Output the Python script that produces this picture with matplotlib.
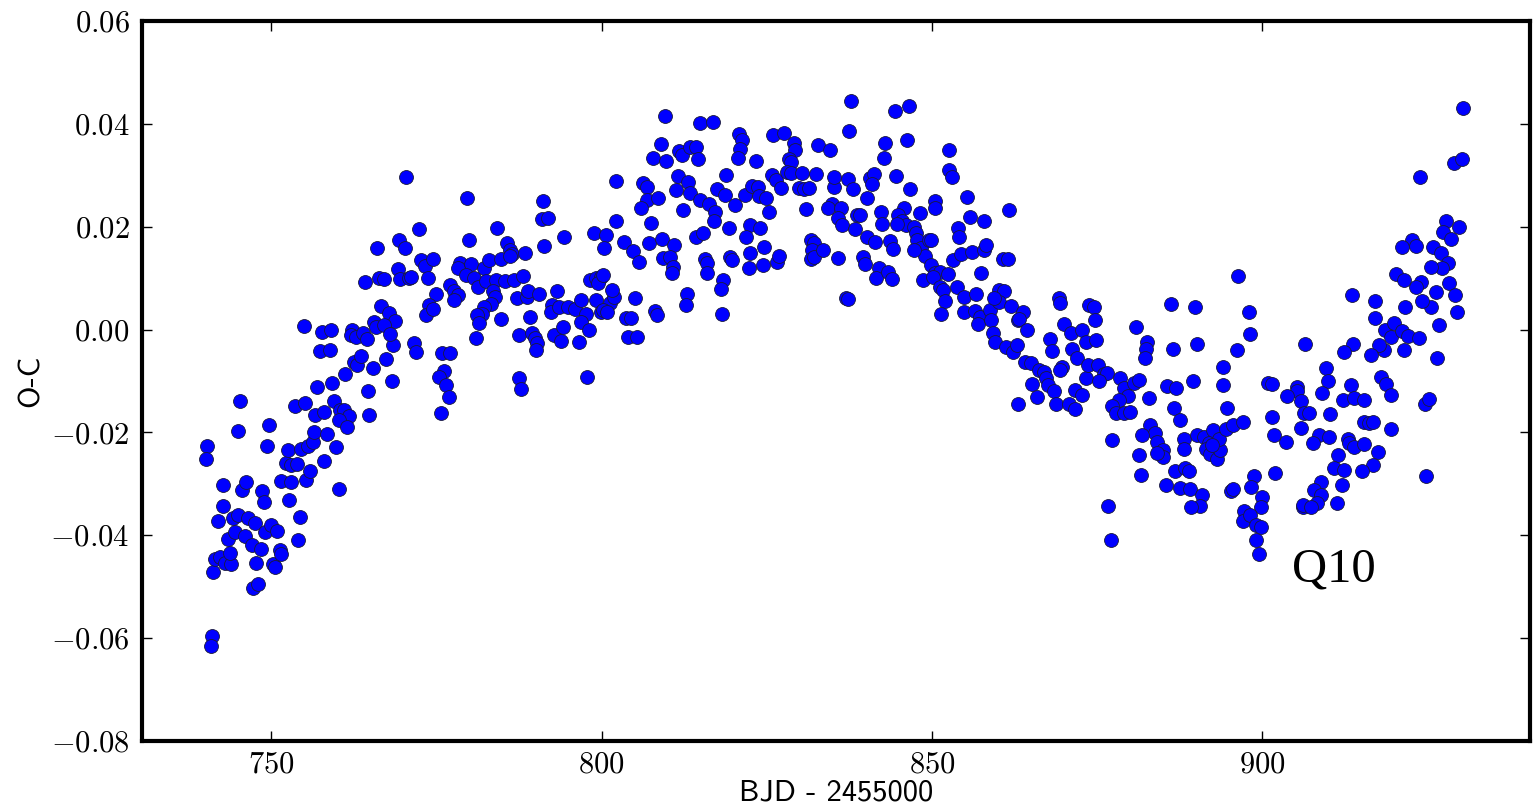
import numpy as np
import matplotlib
matplotlib.use("Agg")
import matplotlib.pyplot as plt

plt.rcParams["font.family"] = "cmr10"
plt.rcParams["mathtext.fontset"] = "cm"
plt.rcParams["axes.formatter.use_mathtext"] = True

# (BJD - 2455000, O-C in units of 1e-3), grouped by stretch
rise = [(741.0, -59.6), (740.8, -61.6), (740.3, -22.7), (740.1, -25.2), (741.2, -47.1), (741.4, -44.7),
        (742.2, -44.2), (743.0, -45.3), (743.9, -45.5), (743.7, -43.5), (741.9, -37.2), (742.7, -34.3),
        (742.6, -30.2), (743.5, -40.7), (744.5, -39.3), (744.2, -36.6), (744.9, -36.1), (746.0, -40.2),
        (746.5, -36.7), (747.5, -37.7), (747.1, -41.9), (748.4, -42.7), (747.7, -45.3), (747.2, -50.3),
        (748.0, -49.4), (745.5, -31.2), (746.2, -29.6), (748.6, -31.3), (748.9, -33.5), (745.2, -13.9),
        (744.9, -19.7), (749.7, -18.6), (749.4, -22.7), (749.1, -39.3), (750.0, -38.0), (750.8, -39.2),
        (750.3, -45.5), (750.5, -46.2), (751.3, -42.9), (751.4, -43.7), (752.7, -33.2), (754.3, -36.4),
        (754.0, -40.9), (751.5, -29.4), (753.0, -29.7), (752.2, -25.9), (753.0, -26.3), (753.8, -26.2),
        (752.5, -23.4), (755.3, -29.3), (755.9, -27.6), (754.5, -23.2), (755.5, -22.7), (756.3, -21.8),
        (756.5, -19.9), (758.4, -20.4), (759.7, -22.9), (758.0, -25.6), (760.2, -31.1), (753.5, -14.8),
        (755.1, -14.2), (756.6, -16.6), (757.9, -16.0), (759.4, -13.9), (760.4, -15.7), (761.0, -15.7),
        (761.7, -16.8), (760.3, -17.6), (761.5, -18.9), (764.8, -16.6), (764.6, -12.0), (756.9, -11.1),
        (759.2, -10.3), (761.2, -8.7), (762.5, -6.3), (763.0, -6.9), (763.6, -5.2), (765.3, -7.5),
        (767.3, -5.8), (768.3, -10.0), (757.4, -4.1), (758.8, -3.9), (768.4, -3.1),
        (770.3, 29.6), (769.3, 17.4), (770.2, 15.9), (766.0, 15.9), (769.1, 11.7), (769.5, 9.8),
        (770.8, 10.1), (766.3, 10.1), (767.0, 9.8), (764.2, 9.2), (766.6, 4.6), (767.8, 3.3),
        (768.7, 1.7), (765.5, 1.5), (765.9, 0.5), (767.1, 0.9), (768.0, -0.9), (754.9, 0.7),
        (757.6, -0.4), (759.0, -0.1), (762.2, 0.0), (762.0, -1.1), (762.8, -1.5), (763.8, -0.7),
        (764.5, -1.8)]

plateau = [(779.6, 25.5), (791.1, 25.0), (790.9, 21.5), (791.8, 21.7), (802.2, 28.9), (802.1, 21.2),
           (772.3, 19.5), (784.1, 19.8), (779.9, 17.4), (785.7, 16.9), (786.1, 15.5), (786.4, 14.7),
           (788.4, 14.8), (791.3, 16.2), (794.3, 17.9), (798.8, 18.8), (800.6, 18.3), (800.3, 15.9),
           (772.7, 13.5), (773.2, 12.3), (774.5, 13.7), (771.2, 10.3), (773.7, 10.0), (774.9, 7.0),
           (773.8, 4.8), (773.4, 2.8), (774.4, 3.9), (778.6, 12.9), (778.2, 11.9), (780.2, 12.7),
           (779.4, 10.6), (780.6, 10.0), (781.3, 8.3), (777.1, 8.7), (777.6, 7.4), (778.2, 6.8),
           (777.6, 5.7), (782.1, 12.0), (782.9, 13.6), (784.7, 13.7), (786.1, 14.3), (782.5, 9.4),
           (784.0, 9.6), (785.3, 9.4), (786.7, 9.6), (788.1, 10.5), (783.6, 7.4), (783.8, 6.4),
           (783.2, 5.0), (782.2, 4.4), (781.9, 3.0), (781.1, 2.8), (781.4, 1.3), (784.8, 2.0),
           (780.9, -1.7), (787.1, 6.1), (788.7, 6.4), (788.9, 7.4), (790.5, 6.9), (789.2, 2.4),
           (787.4, -1.1), (789.4, -0.6), (789.9, -1.7), (790.2, -2.7), (790.1, -4.0), (793.2, 7.5),
           (792.4, 4.8), (792.3, 3.5), (793.6, 4.4), (794.9, 4.4), (795.9, 3.9), (796.9, 5.7),
           (797.6, 3.1), (796.8, 1.5), (792.7, -1.1), (794.1, 0.5), (793.9, -2.2), (796.6, -2.4),
           (798.0, -0.1), (799.1, 5.7), (799.9, 3.5), (800.7, 3.8), (801.2, 5.1), (801.8, 6.3),
           (801.5, 7.7), (798.2, 9.6), (799.1, 10.1), (799.9, 10.3), (799.5, 9.1), (771.6, -2.7),
           (771.9, -4.3), (775.8, -4.6), (777.0, -4.6), (776.1, -8.0), (775.4, -9.2), (776.4, -10.8),
           (776.9, -13.1), (787.5, -9.5), (787.8, -11.6), (797.7, -9.3), (775.7, -16.3)]

crest = [(809.6, 41.5), (814.8, 40.1), (816.8, 40.3), (808.9, 36.1), (807.7, 33.3), (809.7, 32.8),
         (811.7, 34.7), (812.1, 33.9), (813.4, 35.5), (814.2, 35.4), (814.5, 33.1), (820.8, 38.0),
         (821.3, 36.8), (821.0, 35.2), (820.6, 33.3), (823.3, 32.8), (825.9, 37.8), (827.6, 38.3),
         (829.1, 36.2), (829.3, 35.0), (828.3, 33.1), (828.7, 32.6), (832.8, 35.9), (806.2, 28.4),
         (806.9, 27.8), (806.8, 25.2), (808.5, 25.6), (806.0, 23.6), (811.5, 29.8), (813.1, 28.7),
         (811.3, 27.1), (813.3, 26.5), (812.3, 23.2), (807.5, 20.8), (814.8, 25.2), (816.3, 24.4),
         (817.2, 22.9), (817.0, 21.1), (818.8, 30.0), (817.4, 27.3), (818.6, 26.1), (820.2, 24.2),
         (821.7, 26.2), (822.8, 27.9), (823.7, 27.8), (823.8, 26.0), (824.9, 25.5), (825.3, 22.9),
         (825.8, 30.0), (826.4, 29.1), (827.2, 27.6), (828.1, 30.7), (828.6, 30.5), (830.3, 30.4),
         (829.8, 27.6), (830.6, 27.3), (831.3, 27.6), (832.4, 30.2), (830.9, 23.4), (819.3, 19.8),
         (822.5, 20.3), (824.0, 19.8), (821.9, 18.0), (814.2, 18.0), (815.4, 18.8), (803.4, 17.1),
         (804.7, 15.3), (805.7, 13.1), (807.1, 16.8), (809.1, 17.7), (811.0, 16.4), (809.3, 14.0),
         (810.4, 14.2), (810.8, 12.2), (810.6, 11.0), (815.7, 13.8), (816.0, 12.9), (815.9, 11.0),
         (819.4, 14.2), (819.7, 13.5), (822.4, 14.8), (822.3, 11.9), (824.5, 16.1), (824.4, 12.5),
         (826.6, 13.2), (826.8, 14.3), (818.4, 9.6), (818.1, 7.8), (812.9, 7.0), (812.7, 4.8),
         (818.2, 3.1), (831.6, 17.5), (832.1, 16.8), (831.9, 15.5), (831.6, 13.8), (832.2, 14.2),
         (800.2, 10.6), (800.2, 3.8), (800.8, 3.5), (805.1, 6.1), (808.0, 3.7), (808.3, 2.8),
         (803.7, 2.2), (804.5, 2.3), (804.0, -1.5), (805.4, -1.4)]

decline = [(837.7, 44.4), (844.4, 42.4), (846.5, 43.5), (837.5, 38.6), (842.9, 36.3), (846.2, 36.8),
           (842.7, 33.3), (834.6, 35.0), (852.6, 34.9), (852.5, 31.1), (853.0, 29.6), (835.1, 27.7),
           (835.2, 29.6), (837.2, 29.2), (838.1, 27.3), (840.6, 29.4), (841.2, 30.2), (840.9, 28.3),
           (844.6, 29.8), (846.6, 27.3), (840.1, 25.5), (834.8, 24.5), (834.3, 23.6), (836.2, 23.6),
           (835.8, 21.6), (836.3, 20.3), (838.3, 19.5), (838.6, 22.3), (839.1, 22.3), (840.1, 18.0),
           (841.3, 17.1), (843.6, 17.3), (844.1, 15.7), (842.2, 22.9), (842.4, 20.5), (845.8, 23.6),
           (844.9, 22.3), (845.5, 21.2), (846.1, 20.3), (844.7, 20.5), (847.2, 20.0), (847.6, 18.7),
           (848.1, 22.6), (850.5, 24.9), (850.4, 23.6), (855.3, 25.7), (855.7, 21.8), (857.9, 21.2),
           (861.7, 23.2), (833.5, 15.5), (835.7, 14.0), (839.5, 14.2), (839.8, 12.7), (841.9, 12.0),
           (841.5, 10.1), (843.3, 11.2), (843.9, 9.8), (836.9, 6.1), (837.3, 5.9), (847.7, 17.4),
           (848.4, 15.8), (848.9, 14.3), (849.5, 17.4), (849.8, 17.5), (847.2, 15.5), (849.9, 12.5),
           (850.5, 11.0), (851.2, 11.2), (852.4, 10.8), (848.6, 9.6), (850.2, 10.3), (851.2, 8.3),
           (851.7, 7.7), (851.9, 5.6), (851.3, 3.0), (853.2, 13.6), (854.4, 14.7), (856.1, 15.1),
           (857.9, 15.5), (858.2, 16.4), (853.9, 19.8), (854.1, 18.0), (857.4, 11.0), (853.7, 8.2),
           (854.9, 6.4), (856.6, 7.0), (854.9, 3.5), (856.5, 3.7), (857.2, 2.5), (856.9, 1.1),
           (858.8, 3.8), (858.9, 1.8), (860.2, 7.7), (860.9, 7.5), (860.1, 5.4), (862.0, 4.6),
           (863.0, 1.8), (860.7, 13.8), (861.5, 13.8), (859.2, -0.7), (859.5, -2.4), (861.2, -3.3),
           (862.2, -4.3), (862.8, -3.0)]

trough = [(859.4, 6.1), (863.7, 3.5), (863.2, 2.0), (864.3, -0.1), (869.2, 6.1), (869.4, 5.2),
          (870.0, 1.1), (871.1, -0.6), (872.7, 0.0), (873.7, 4.8), (874.5, 4.4), (874.6, 1.8),
          (873.3, -2.4), (874.8, -2.0), (867.9, -1.9), (868.1, -4.1), (871.2, -3.7), (871.9, -5.5),
          (864.0, -6.3), (865.0, -6.6), (866.2, -7.9), (866.9, -8.2), (867.2, -9.5), (865.2, -10.5),
          (865.9, -13.1), (867.5, -10.8), (868.5, -11.9), (868.7, -14.5), (863.0, -14.5), (869.7, -7.2),
          (869.4, -7.9), (873.3, -9.4), (873.6, -6.9), (875.1, -6.8), (876.1, -8.7), (876.5, -8.4),
          (875.3, -10.1), (871.7, -11.8), (872.7, -12.7), (870.7, -14.5), (871.6, -15.5), (878.5, -9.5),
          (879.0, -11.4), (880.5, -10.3), (881.3, -9.8), (879.6, -12.9), (878.3, -13.7), (877.3, -14.9),
          (877.8, -16.3), (879.0, -16.2), (880.0, -16.0), (880.9, 0.5), (882.5, -2.4), (882.4, -3.7),
          (882.3, -5.6), (882.9, -13.4), (886.1, 5.0), (889.8, 4.3), (886.4, -3.8), (890.1, -2.9),
          (885.6, -11.0), (887.0, -11.4), (889.5, -10.1), (886.6, -15.3), (887.5, -17.5), (883.0, -18.6),
          (883.8, -20.2), (881.8, -20.5), (877.3, -21.5), (888.1, -21.2), (890.1, -20.5), (896.3, 10.5),
          (898.0, 3.5), (898.2, -0.9), (896.2, -4.0), (894.1, -7.2), (894.0, -10.8), (894.6, -15.3),
          (884.0, -21.8), (885.0, -23.4), (884.9, -24.7), (884.1, -24.0), (881.3, -24.4), (881.6, -28.2),
          (876.6, -34.3), (877.1, -40.9), (888.1, -23.3), (886.7, -27.5), (888.3, -27.0), (888.9, -27.6),
          (885.4, -30.2), (887.6, -30.8), (889.1, -31.1), (890.8, -32.2), (890.6, -34.3), (889.2, -34.6),
          (891.2, -20.8), (891.9, -22.0), (891.4, -23.3), (892.1, -24.2), (893.1, -25.2), (893.6, -23.4),
          (892.6, -19.5), (893.4, -21.3), (894.5, -19.4), (895.6, -18.6), (897.1, -18.0), (892.3, -22.5),
          (895.2, -31.3), (895.5, -31.0)]

upturn = [(900.8, -10.3), (901.4, -10.6), (901.4, -17.0), (901.8, -20.6), (903.5, -21.8), (901.9, -27.8),
          (905.9, -19.2), (905.2, -11.1), (905.3, -11.9), (905.8, -13.9), (903.8, -12.9), (906.3, -16.3),
          (906.1, -34.5), (898.7, -28.5), (898.3, -30.6), (900.0, -32.6), (899.8, -34.5), (897.2, -35.2),
          (897.0, -37.2), (898.1, -36.1), (899.0, -38.0), (899.8, -38.3), (899.0, -40.9), (899.5, -43.7),
          (930.3, 43.0), (929.0, 32.3), (930.2, 33.1), (923.9, 29.6), (927.8, 21.2), (929.7, 20.0),
          (927.4, 19.0), (928.6, 17.7), (922.7, 17.5), (921.1, 16.0), (923.3, 16.2), (925.8, 16.1),
          (927.0, 14.8), (928.1, 13.0), (927.2, 11.9), (925.5, 12.2), (920.2, 10.8), (921.4, 9.6),
          (924.0, 9.3), (923.3, 8.3), (928.3, 9.1), (929.2, 6.7), (929.5, 3.5), (926.3, 7.3),
          (925.5, 4.4), (924.2, 5.6), (921.6, 4.3), (926.8, 0.9), (926.4, -5.6), (913.6, 6.7),
          (917.1, 5.6), (917.0, 2.3), (918.5, 0.0), (919.9, 1.2), (919.5, -1.5), (921.1, -0.2),
          (922.0, -1.3), (923.7, -1.7), (918.4, -4.0), (917.6, -3.0), (916.4, -5.0), (921.5, -4.0),
          (913.7, -2.8), (912.3, -4.3), (917.9, -9.3), (918.7, -10.6), (919.4, -12.7), (924.6, -14.4),
          (925.2, -13.6), (924.7, -28.5), (919.5, -19.4), (909.6, -7.5), (910.0, -10.1), (909.1, -12.4),
          (913.4, -10.8), (912.2, -13.7), (913.8, -13.4), (915.4, -13.7), (906.4, -2.9), (910.2, -16.4),
          (907.0, -16.2), (908.5, -20.5), (910.1, -20.8), (907.6, -22.0), (915.4, -17.9), (916.2, -18.2),
          (916.7, -17.9), (912.9, -21.2), (913.1, -22.1), (913.9, -22.9), (915.4, -22.3), (917.5, -23.8),
          (916.7, -26.3), (911.5, -24.4), (910.9, -27.0), (912.4, -27.4), (912.0, -30.2), (911.3, -33.8),
          (915.1, -27.6), (908.9, -29.6), (907.8, -31.2), (908.8, -32.2), (908.3, -33.7), (906.1, -34.1),
          (907.4, -34.5)]

xticks = [750, 800, 850, 900]
yticks = [-0.08, -0.06, -0.04, -0.02, 0.00, 0.02, 0.04, 0.06]

pts = np.array(rise + plateau + crest + decline + trough + upturn)
bjd = pts[:, 0]
oc = pts[:, 1] / 1000.0

fig = plt.figure(figsize=(15.33, 8.07), dpi=100)
ax = fig.add_axes([0.0926, 0.0818, 0.9054, 0.8922])

ax.scatter(bjd, oc, s=100, c="#0000ff", edgecolors="#1a1a3a", linewidths=0.6, zorder=3)

ax.set_xlim(730.4, 940.5)
ax.set_ylim(-0.08, 0.06)
ax.set_xticks(xticks)
ax.set_yticks(yticks)
ax.set_yticklabels(["$%.2f$" % v if v != 0 else "$0.00$" for v in yticks])
ax.set_xticklabels(["$%d$" % v for v in xticks])

ax.tick_params(direction="in", length=7, width=1, top=True, right=True,
               labelsize=22, pad=9)
ax.tick_params(axis="x", pad=7)
for sp in ax.spines.values():
    sp.set_linewidth(3)

ax.set_xlabel("BJD - 2455000", fontsize=22, family="cmss10", labelpad=1)
ax.set_ylabel("O-C", fontsize=22, family="cmss10", labelpad=4)

ax.text(904.5, -0.0490, "Q10", fontsize=35, family="Liberation Serif", va="baseline")

fig.savefig("out.png", dpi=100)
